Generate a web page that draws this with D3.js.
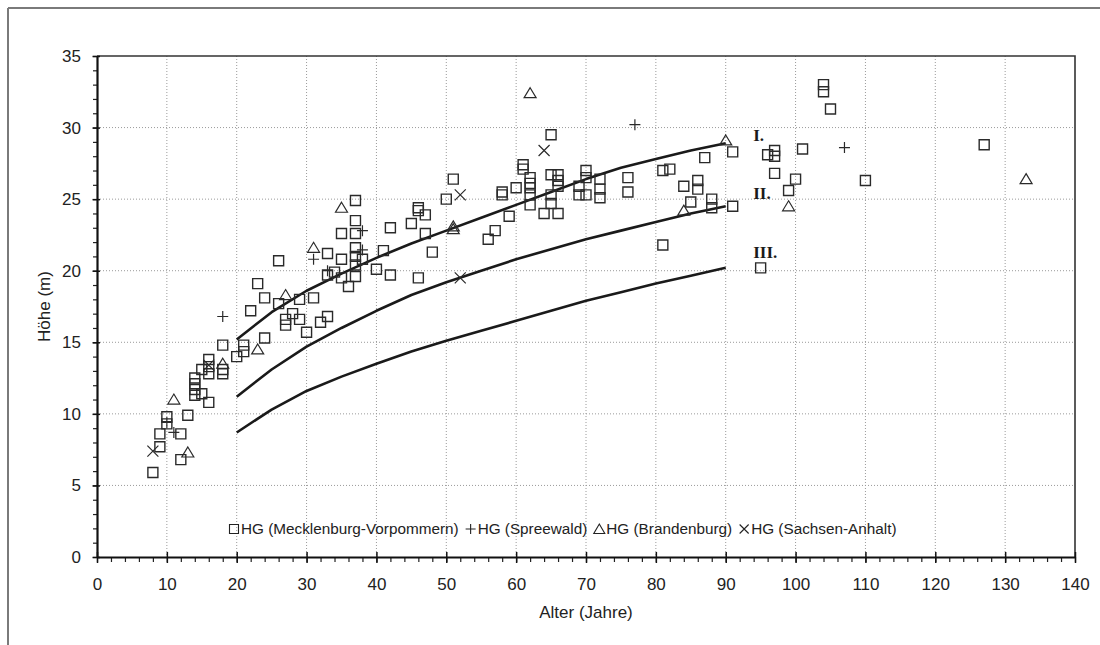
<!DOCTYPE html>
<html><head><meta charset="utf-8">
<script src="https://cdn.jsdelivr.net/npm/d3@7"></script>
<style>body{margin:0;background:#fff}svg{display:block}</style>
</head><body>
<svg id="chart" width="1100" height="645"></svg>
<script>
// ---- data ----
const mvAge = [8,9,9,10,10,12,12,13,14,14,14,14,15,15,16,16,16,16,18,18,18,20,21,21,22,23,24,24,26,26,27,27,28,29,29,30,31,32,33,33,33,34,35,35,35,36,37,37,37,37,37,37,37,38,40,41,42,42,45,46,46,46,47,47,48,50,51,56,57,58,58,59,60,61,61,62,62,62,62,62,64,65,65,65,65,66,66,66,66,69,69,70,70,70,72,72,72,76,76,81,82,81,84,85,86,86,87,88,88,91,91,95,96,97,97,97,99,100,101,104,104,105,110,127];
const mvH   = [5.9,7.7,8.6,9.8,9.3,8.6,6.8,9.9,12.5,12.1,11.7,11.3,11.4,13.1,10.8,13.8,13.3,12.8,13.1,12.8,14.8,14.0,14.8,14.35,17.2,19.1,18.1,15.3,20.7,17.7,16.6,16.2,17.0,18.0,16.6,15.7,18.1,16.4,16.8,21.2,19.7,19.9,20.8,19.5,22.6,18.9,24.9,23.5,22.6,21.6,21.0,20.4,19.6,20.8,20.1,21.4,19.7,23.0,23.3,24.4,24.2,19.5,23.9,22.6,21.3,25.0,26.4,22.2,22.8,25.5,25.3,23.8,25.8,27.4,27.1,26.5,26.1,25.8,25.3,24.6,24.0,29.5,26.7,25.3,24.7,26.7,26.3,25.9,24.0,25.9,25.3,27.0,26.5,25.3,26.4,25.7,25.1,26.5,25.5,27.0,27.1,21.8,25.9,24.8,26.3,25.7,27.9,25.0,24.4,28.3,24.5,20.2,28.1,28.4,28.0,26.8,25.6,26.4,28.5,33.0,32.5,31.3,26.3,28.8];
const spAge = [10,11,18,31,33,38,38,77,107];
const spH   = [9.4,8.7,16.8,20.8,20.0,21.45,22.8,30.2,28.6];
const brAge = [11,13,18,23,27,31,35,51,51,62,84,90,99,133];
const brH   = [11.0,7.3,13.5,14.5,18.3,21.6,24.4,22.9,23.1,32.4,24.2,29.1,24.5,26.4];
const saAge = [8,16,52,52,64];
const saH   = [7.4,13.4,25.3,19.5,28.4];
const curveAge = [20,25,30,35,40,45,50,55,60,65,70,75,80,85,90];
const curveI   = [15.2,17.1,18.6,19.8,20.9,21.9,22.8,23.7,24.6,25.5,26.4,27.2,27.8,28.4,28.9];
const curveII  = [11.2,13.1,14.7,16.0,17.2,18.3,19.2,20.0,20.8,21.5,22.2,22.8,23.4,24.0,24.5];
const curveIII = [8.7,10.3,11.6,12.6,13.5,14.35,15.1,15.8,16.5,17.2,17.9,18.5,19.1,19.65,20.2];
const curveLabels = ["I.","II.","III."];
const curveLabelH = [29.07,25.0,20.9];
const xTicks = d3.range(0,141,10);
const yTicks = d3.range(0,36,5);
const legendLabels = ["HG (Mecklenburg-Vorpommern)","HG (Spreewald)","HG (Brandenburg)","HG (Sachsen-Anhalt)"];
const xTitle = "Alter (Jahre)";
const yTitle = "Höhe (m)";

// ---- chart ----
const svg = d3.select("#chart");
const font = "'Liberation Sans', Arial, sans-serif";
const x = d3.scaleLinear().domain([0,140]).range([97,1075]);
const y = d3.scaleLinear().domain([0,35]).range([557,56]);

// outer frame (top + left)
svg.append("line").attr("x1",8).attr("x2",1100).attr("y1",8).attr("y2",8).attr("stroke","#7a7a7a").attr("stroke-width",2);
svg.append("line").attr("x1",8).attr("x2",8).attr("y1",8).attr("y2",645).attr("stroke","#7a7a7a").attr("stroke-width",2);

// grid
const grid = svg.append("g");
grid.selectAll(".gx").data(xTicks.filter(d=>d>0&&d<140)).join("line")
  .attr("x1",d=>x(d)).attr("x2",d=>x(d)).attr("y1",y(35)).attr("y2",y(0))
  .attr("stroke","#9a9a9a").attr("stroke-width",1).attr("stroke-dasharray","1,2");
grid.selectAll(".gy").data(yTicks.filter(d=>d>0&&d<35)).join("line")
  .attr("x1",x(0)).attr("x2",x(140)).attr("y1",d=>y(d)).attr("y2",d=>y(d))
  .attr("stroke","#9a9a9a").attr("stroke-width",1).attr("stroke-dasharray","1,2");

// plot border top + right
svg.append("path").attr("d",`M${x(0)},${y(35)}H${x(140)}V${y(0)}`).attr("fill","none").attr("stroke","#333").attr("stroke-width",1.6);

// curves
const line = d3.line().x(d=>x(d[0])).y(d=>y(d[1]));
[curveI,curveII,curveIII].forEach((c,i)=>{
  svg.append("path").datum(curveAge.map((a,j)=>[a,c[j]])).attr("d",line)
    .attr("fill","none").attr("stroke","#1a1a1a").attr("stroke-width",2.6).attr("stroke-linejoin","round");
  svg.append("text").attr("x",x(90)+27.5).attr("y",y(curveLabelH[i]))
    .attr("font-family","'Liberation Serif', 'Times New Roman', serif").attr("font-weight","bold")
    .attr("font-size",17).attr("fill","#1a1a1a").text(curveLabels[i]);
});

// markers
const sq = "M-5,-5H5V5H-5Z";
const tri = "M0,-5.5L6,4.5H-6Z";
const plus = "M-5.5,0H5.5M0,-5.5V5.5";
const cross = "M-5.5,-5.5L5.5,5.5M-5.5,5.5L5.5,-5.5";
function drawSeries(ages, hs, path, sw){
  svg.append("g").selectAll("path").data(ages.map((a,i)=>[a,hs[i]])).join("path")
    .attr("transform",d=>`translate(${x(d[0])},${y(d[1])})`).attr("d",path)
    .attr("fill","none").attr("stroke","#2a2a2a").attr("stroke-width",sw);
}
drawSeries(mvAge,mvH,sq,1.4);
drawSeries(spAge,spH,plus,1.2);
drawSeries(brAge,brH,tri,1.2);
drawSeries(saAge,saH,cross,1.2);

// axes
const xMinor = svg.append("g").attr("transform",`translate(0,${y(0)})`)
  .call(d3.axisBottom(x).tickValues(d3.range(0,141,2)).tickSize(5).tickFormat(""));
xMinor.select(".domain").remove();
xMinor.selectAll(".tick line").attr("stroke","#222").attr("stroke-width",1.2);
const xAxis = svg.append("g").attr("transform",`translate(0,${y(0)})`)
  .call(d3.axisBottom(x).tickValues(xTicks).tickSize(6).tickSizeOuter(0));
xAxis.select(".domain").attr("stroke","#111").attr("stroke-width",2.2);
xAxis.selectAll(".tick line").attr("y1",-5).attr("y2",6).attr("stroke","#111").attr("stroke-width",1.5);
xAxis.selectAll(".tick text").attr("y",21).attr("font-family",font).attr("font-size",17).attr("fill","#222");

const yMinor = svg.append("g").attr("transform",`translate(${x(0)},0)`)
  .call(d3.axisLeft(y).tickValues(d3.range(0,36,1)).tickSize(4).tickFormat(""));
yMinor.select(".domain").remove();
yMinor.selectAll(".tick line").attr("stroke","#222").attr("stroke-width",1.2);
const yAxis = svg.append("g").attr("transform",`translate(${x(0)},0)`)
  .call(d3.axisLeft(y).tickValues(yTicks).tickSize(4.5).tickSizeOuter(0));
yAxis.select(".domain").attr("stroke","#111").attr("stroke-width",2.2);
yAxis.selectAll(".tick line").attr("x1",3).attr("x2",-4.5).attr("stroke","#111").attr("stroke-width",1.5);
yAxis.selectAll(".tick text").attr("x",-16).attr("font-family",font).attr("font-size",17).attr("fill","#222");

// titles
svg.append("text").attr("x",(x(0)+x(140))/2).attr("y",618).attr("text-anchor","middle")
  .attr("font-family",font).attr("font-size",17).attr("fill","#222").text(xTitle);
svg.append("text").attr("transform",`translate(50,${(y(0)+y(35))/2}) rotate(-90)`).attr("text-anchor","middle")
  .attr("font-family",font).attr("font-size",17).attr("fill","#222").text(yTitle);

// legend
const legSyms = [
  "M-4.5,-4.5H4.5V4.5H-4.5Z",
  "M-5,0H5M0,-5V5",
  "M0,-5L5.5,4.5H-5.5Z",
  "M-4.5,-4.5L4.5,4.5M-4.5,4.5L4.5,-4.5"
];
let lx = 229;
const leg = svg.append("g");
legendLabels.forEach((lab,i)=>{
  leg.append("path").attr("d",legSyms[i]).attr("transform",`translate(${lx+5},529)`)
    .attr("fill","none").attr("stroke","#222").attr("stroke-width",1.1);
  const t = leg.append("text").attr("x",lx+12).attr("y",534).attr("font-family",font)
    .attr("font-size",15.3).attr("fill","#222").text(lab);
  lx = lx + 12 + t.node().getComputedTextLength() + 7;
});
</script>
</body></html>
